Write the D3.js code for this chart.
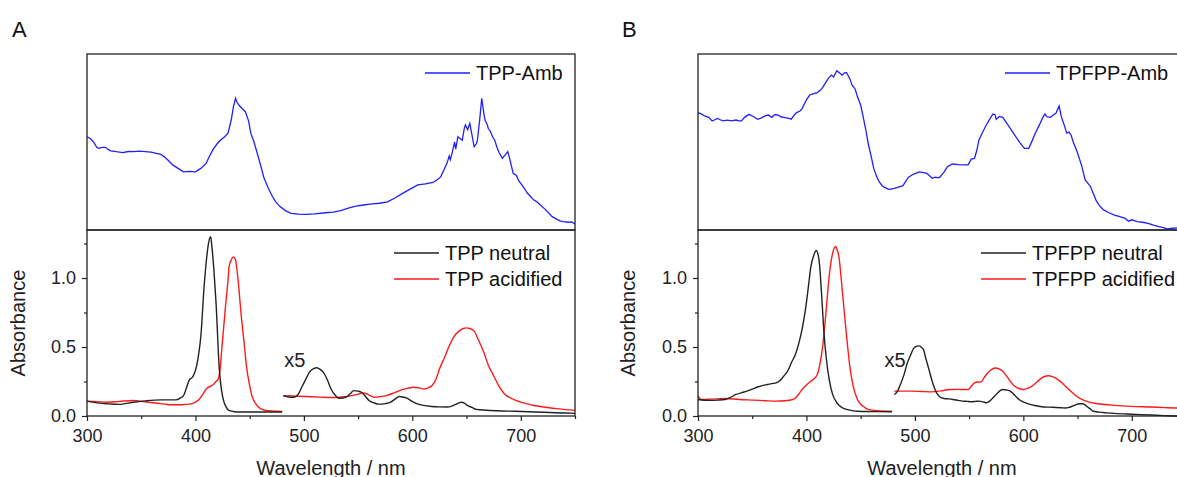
<!DOCTYPE html>
<html>
<head>
<meta charset="utf-8">
<script src="https://cdn.jsdelivr.net/npm/d3@7"></script>
<style>
	body { margin: 0; background: #fff; }
	svg { display: block; font-family: "Liberation Sans", Arial, sans-serif; }
	.tick text { font-size: 18px; fill: #222; }
	.tick line { stroke: #222; stroke-width: 1.2; }
</style>
</head>
<body>
<svg width="1177" height="477"></svg>
<script>
// x range of every panel (nm)
var wlDomain = [300, 750];
var xMajor = [300, 400, 500, 600, 700];
var xMinor = [350, 450, 550, 650, 750];
var yMajor = [0, 0.5, 1.0];
var yMinor = [0.25, 0.75, 1.25];

// top panels: ambient spectra, arbitrary units (0 = panel bottom, 1 = panel top)
var tppAmb = [[300,0.53],[303,0.52],[306,0.50],[309,0.47],[311,0.464],[314,0.47],[317,0.47],[320,0.455],[322,0.45],[327,0.445],[333,0.44],[338,0.446],[343,0.445],[348,0.448],[354,0.445],[359,0.443],[364,0.436],[368,0.43],[371,0.417],[375,0.395],[379,0.37],[384,0.35],[389,0.33],[394,0.333],[400,0.33],[405,0.35],[410,0.38],[413,0.42],[416,0.455],[420,0.49],[423,0.51],[427,0.53],[430,0.55],[433,0.625],[435,0.70],[437,0.748],[438,0.73],[440,0.71],[443,0.69],[446,0.672],[449,0.62],[451,0.55],[454,0.50],[457,0.436],[460,0.37],[463,0.30],[467,0.24],[471,0.19],[474,0.16],[478,0.133],[483,0.11],[488,0.095],[495,0.09],[502,0.089],[510,0.092],[520,0.098],[527,0.102],[534,0.11],[541,0.124],[548,0.136],[555,0.142],[563,0.148],[570,0.152],[577,0.16],[584,0.182],[591,0.208],[598,0.232],[605,0.256],[612,0.262],[619,0.27],[623,0.285],[626,0.30],[629,0.34],[632,0.38],[634,0.42],[635,0.40],[637,0.445],[639,0.50],[640,0.46],[642,0.53],[644,0.52],[646,0.51],[648,0.58],[649,0.597],[651,0.57],[653,0.606],[655,0.54],[657,0.473],[659,0.49],[660,0.51],[662,0.62],[664,0.748],[666,0.66],[667,0.625],[669,0.60],[670,0.578],[672,0.56],[674,0.53],[676,0.51],[678,0.47],[680,0.44],[683,0.407],[686,0.43],[688,0.445],[690,0.40],[693,0.322],[696,0.31],[698,0.28],[701,0.256],[704,0.23],[706,0.21],[709,0.19],[712,0.17],[715,0.16],[718,0.142],[722,0.12],[726,0.095],[729,0.076],[733,0.062],[736,0.052],[739,0.047],[744,0.044],[747,0.046],[750,0.034]];

var tpfppAmb = [[300,0.667],[303,0.66],[306,0.648],[310,0.64],[313,0.62],[315,0.625],[318,0.634],[320,0.628],[323,0.62],[327,0.624],[331,0.62],[335,0.625],[338,0.62],[340,0.62],[343,0.64],[347,0.657],[351,0.645],[355,0.629],[358,0.636],[362,0.648],[365,0.653],[368,0.64],[371,0.656],[374,0.653],[377,0.642],[379,0.64],[383,0.636],[386,0.63],[389,0.655],[391,0.667],[394,0.676],[396,0.69],[400,0.74],[403,0.767],[406,0.774],[410,0.78],[413,0.795],[415,0.81],[418,0.84],[420,0.86],[423,0.88],[425,0.87],[428,0.905],[430,0.895],[433,0.88],[435,0.893],[437,0.894],[440,0.86],[442,0.824],[445,0.80],[447,0.758],[450,0.71],[452,0.653],[455,0.56],[457,0.49],[460,0.41],[462,0.35],[465,0.30],[467,0.275],[470,0.25],[472,0.242],[475,0.234],[477,0.231],[481,0.236],[484,0.242],[487,0.248],[489,0.252],[492,0.28],[494,0.30],[499,0.318],[504,0.33],[508,0.326],[511,0.322],[514,0.305],[516,0.294],[519,0.30],[521,0.296],[523,0.30],[527,0.33],[530,0.36],[533,0.37],[535,0.375],[540,0.372],[545,0.37],[549,0.37],[552,0.403],[555,0.407],[557,0.45],[559,0.51],[562,0.55],[565,0.587],[569,0.63],[572,0.659],[574,0.655],[575,0.629],[578,0.645],[581,0.64],[585,0.605],[589,0.568],[593,0.53],[597,0.495],[601,0.464],[605,0.464],[608,0.505],[611,0.55],[615,0.60],[618,0.64],[620,0.659],[622,0.642],[625,0.64],[628,0.655],[630,0.663],[633,0.705],[635,0.644],[638,0.59],[640,0.55],[642,0.556],[644,0.54],[646,0.50],[649,0.455],[652,0.40],[654,0.36],[657,0.284],[660,0.262],[662,0.246],[665,0.20],[667,0.17],[670,0.14],[674,0.114],[679,0.098],[684,0.085],[689,0.076],[694,0.066],[697,0.05],[700,0.058],[705,0.047],[710,0.044],[715,0.038],[720,0.028],[725,0.019],[729,0.014],[733,0.006],[738,0.01],[742,0.012],[746,0.004],[750,0.002]];

// bottom panels: absorbance (second segment 480-750 nm drawn x5)
var tppNeutralA = [[300,0.108],[311,0.093],[320,0.088],[329,0.084],[343,0.10],[354,0.11],[368,0.117],[382,0.117],[386,0.13],[389,0.148],[392,0.21],[394,0.256],[398,0.29],[401,0.36],[403,0.45],[405,0.58],[408,0.94],[410,1.12],[412,1.25],[414,1.30],[415,1.24],[417,1.06],[419,0.82],[422,0.34],[424,0.19],[426,0.11],[428,0.07],[431,0.04],[436,0.031],[442,0.029],[467,0.029],[480,0.029]];
var tppNeutralB = [[481,0.148],[486,0.138],[491,0.136],[495,0.16],[498,0.208],[502,0.27],[505,0.316],[509,0.343],[512,0.35],[515,0.338],[518,0.316],[522,0.255],[525,0.196],[529,0.15],[532,0.129],[536,0.13],[539,0.136],[543,0.163],[546,0.184],[550,0.18],[553,0.172],[557,0.14],[560,0.112],[565,0.094],[569,0.086],[575,0.09],[580,0.10],[584,0.122],[588,0.141],[591,0.138],[595,0.129],[600,0.105],[604,0.089],[610,0.077],[618,0.069],[625,0.066],[632,0.065],[637,0.074],[640,0.084],[643,0.095],[645,0.10],[648,0.094],[650,0.081],[655,0.062],[659,0.048],[668,0.042],[678,0.038],[695,0.034],[714,0.029],[732,0.024],[750,0.019]];
var tppAcidA = [[300,0.108],[310,0.104],[318,0.10],[330,0.106],[343,0.112],[352,0.104],[361,0.096],[370,0.088],[378,0.081],[388,0.082],[396,0.088],[400,0.10],[403,0.117],[407,0.16],[410,0.196],[414,0.216],[417,0.232],[419,0.25],[421,0.268],[423,0.36],[424,0.46],[426,0.64],[428,0.82],[430,0.98],[431,1.08],[433,1.13],[435,1.153],[437,1.13],[438,1.08],[440,0.93],[442,0.746],[445,0.52],[447,0.364],[450,0.22],[452,0.148],[456,0.085],[460,0.053],[464,0.042],[467,0.038],[475,0.034],[480,0.033]];
var tppAcidB = [[481,0.148],[490,0.145],[502,0.141],[515,0.137],[530,0.134],[538,0.14],[544,0.148],[550,0.158],[555,0.167],[560,0.152],[565,0.136],[570,0.14],[576,0.148],[583,0.167],[590,0.189],[596,0.202],[601,0.208],[606,0.204],[611,0.196],[615,0.205],[618,0.22],[622,0.27],[625,0.34],[630,0.43],[634,0.507],[638,0.57],[643,0.615],[647,0.634],[650,0.639],[653,0.634],[657,0.615],[661,0.55],[666,0.46],[670,0.37],[675,0.292],[680,0.215],[685,0.16],[692,0.125],[700,0.10],[710,0.08],[721,0.065],[735,0.052],[750,0.041]];

var tpfppNeutralA = [[300,0.12],[311,0.113],[318,0.115],[325,0.12],[330,0.135],[335,0.156],[340,0.168],[345,0.18],[350,0.195],[355,0.21],[360,0.222],[364,0.228],[368,0.235],[372,0.24],[376,0.26],[379,0.288],[383,0.33],[386,0.384],[390,0.45],[393,0.528],[396,0.63],[399,0.767],[402,0.95],[404,1.079],[407,1.17],[409,1.199],[411,1.16],[412,1.103],[414,0.88],[416,0.62],[418,0.44],[421,0.264],[424,0.16],[428,0.096],[432,0.065],[437,0.048],[442,0.039],[447,0.034],[460,0.032],[479,0.031]];
var tpfppNeutralB = [[481,0.156],[484,0.18],[486,0.216],[490,0.30],[493,0.384],[496,0.44],[499,0.492],[502,0.506],[504,0.508],[506,0.498],[508,0.48],[510,0.42],[513,0.336],[516,0.25],[520,0.168],[523,0.14],[527,0.127],[531,0.124],[535,0.12],[540,0.113],[544,0.108],[548,0.106],[552,0.103],[556,0.106],[559,0.108],[563,0.102],[566,0.096],[569,0.108],[572,0.132],[576,0.165],[579,0.186],[581,0.192],[585,0.188],[588,0.18],[592,0.15],[596,0.12],[601,0.098],[606,0.084],[612,0.074],[617,0.067],[624,0.064],[630,0.062],[635,0.06],[639,0.058],[642,0.062],[644,0.067],[647,0.077],[649,0.084],[652,0.089],[654,0.089],[657,0.08],[659,0.067],[662,0.05],[664,0.036],[670,0.028],[677,0.023],[684,0.019],[700,0.013],[718,0.007],[730,0.003],[741,0.0],[750,0.0]];
var tpfppAcidA = [[300,0.144],[302,0.125],[303,0.12],[312,0.122],[325,0.127],[338,0.12],[352,0.115],[362,0.111],[372,0.108],[380,0.11],[388,0.12],[392,0.15],[396,0.192],[400,0.225],[404,0.252],[407,0.27],[410,0.30],[412,0.36],[415,0.504],[418,0.75],[420,0.935],[422,1.08],[424,1.175],[427,1.228],[428,1.21],[430,1.151],[432,1.0],[435,0.743],[437,0.58],[440,0.36],[443,0.22],[447,0.12],[452,0.072],[457,0.048],[465,0.038],[479,0.034]];
var tpfppAcidB = [[481,0.18],[490,0.18],[498,0.18],[506,0.178],[515,0.175],[524,0.182],[532,0.192],[540,0.193],[549,0.192],[552,0.215],[555,0.24],[558,0.246],[561,0.247],[564,0.28],[567,0.312],[571,0.338],[574,0.348],[578,0.34],[581,0.324],[585,0.285],[589,0.24],[594,0.205],[600,0.192],[604,0.2],[608,0.216],[613,0.25],[617,0.276],[620,0.288],[623,0.292],[627,0.285],[632,0.264],[637,0.23],[642,0.192],[648,0.15],[654,0.12],[660,0.102],[667,0.091],[675,0.083],[684,0.077],[700,0.07],[718,0.065],[730,0.061],[741,0.058],[750,0.056]];

var svg = d3.select('svg');

function drawPanel(opt) {
	var left = opt.left, width = 488;
	var top = 54, mid = 230, bottom = 416;

	var x = d3.scaleLinear().domain(wlDomain).range([left, left + width]);
	var yTop = d3.scaleLinear().domain([0, 1]).range([mid, top]);
	var y = d3.scaleLinear().domain([0, 1.348]).range([bottom, mid]);

	var g = svg.append('g');

	// panel letter
	g.append('text')
		.attr('x', opt.letterX).attr('y', 37)
		.style('font-size', '22px').style('fill', '#111')
		.text(opt.letter);

	// top panel - ambient spectrum
	var lineTop = d3.line()
		.x(function(d) { return x(d[0]); })
		.y(function(d) { return yTop(d[1]); });
	g.append('path')
		.datum(opt.amb)
		.attr('d', lineTop)
		.attr('fill', 'none')
		.attr('stroke', '#1f1fff')
		.attr('stroke-width', 1.3);

	// bottom panel - absorbance
	var line = d3.line()
		.curve(d3.curveMonotoneX)
		.x(function(d) { return x(d[0]); })
		.y(function(d) { return y(d[1]); });
	[[opt.acidA, '#ff1a1a'], [opt.acidB, '#ff1a1a'], [opt.neutA, '#222'], [opt.neutB, '#222']].forEach(function(s) {
		g.append('path')
			.datum(s[0])
			.attr('d', line)
			.attr('fill', 'none')
			.attr('stroke', s[1])
			.attr('stroke-width', 1.4);
	});

	// frames
	g.append('rect')
		.attr('x', left).attr('y', top)
		.attr('width', width).attr('height', mid - top)
		.attr('fill', 'none').attr('stroke', '#222').attr('stroke-width', 1.3);
	g.append('rect')
		.attr('x', left).attr('y', mid)
		.attr('width', width).attr('height', bottom - mid)
		.attr('fill', 'none').attr('stroke', '#222').attr('stroke-width', 1.3);

	// axes
	g.append('g').attr('transform', 'translate(0,' + bottom + ')')
		.call(d3.axisBottom(x).tickValues(xMajor).tickSize(5).tickPadding(8).tickFormat(d3.format('d')));
	g.append('g').attr('transform', 'translate(0,' + bottom + ')')
		.call(d3.axisBottom(x).tickValues(xMinor).tickSize(3).tickFormat(''));
	g.append('g').attr('transform', 'translate(' + left + ',0)')
		.call(d3.axisLeft(y).tickValues(yMajor).tickSize(5).tickPadding(6).tickFormat(d3.format('.1f')));
	g.append('g').attr('transform', 'translate(' + left + ',0)')
		.call(d3.axisLeft(y).tickValues(yMinor).tickSize(3).tickFormat(''));
	g.selectAll('.domain').remove();

	// axis titles
	g.append('text')
		.attr('x', left + width / 2).attr('y', 475)
		.attr('text-anchor', 'middle')
		.style('font-size', '20px').style('fill', '#222')
		.text('Wavelength / nm');
	g.append('text')
		.attr('transform', 'translate(' + (opt.letterX + 13) + ',' + ((mid + bottom) / 2) + ') rotate(-90)')
		.attr('text-anchor', 'middle')
		.style('font-size', '20px').style('fill', '#222')
		.text('Absorbance');

	// x5 marker
	g.append('text')
		.attr('x', x(opt.x5)).attr('y', 367)
		.style('font-size', '20px').style('fill', '#222')
		.text('x5');

	// legends
	function legend(lx, ly, color, label) {
		g.append('line')
			.attr('x1', lx).attr('x2', lx + 45)
			.attr('y1', ly).attr('y2', ly)
			.attr('stroke', color).attr('stroke-width', 1.4);
		g.append('text')
			.attr('x', lx + 51).attr('y', ly).attr('dy', '0.35em')
			.style('font-size', '20px').style('fill', '#111')
			.text(label);
	}
	legend(opt.ambLegX, 73, '#1f1fff', opt.name + '-Amb');
	legend(opt.legX, 253, '#222', opt.name + ' neutral');
	legend(opt.legX, 279, '#ff1a1a', opt.name + ' acidified');
}

drawPanel({
	left: 87, letter: 'A', letterX: 12, name: 'TPP',
	amb: tppAmb, neutA: tppNeutralA, neutB: tppNeutralB, acidA: tppAcidA, acidB: tppAcidB,
	x5: 482, ambLegX: 425, legX: 394
});
drawPanel({
	left: 698, letter: 'B', letterX: 622, name: 'TPFPP',
	amb: tpfppAmb, neutA: tpfppNeutralA, neutB: tpfppNeutralB, acidA: tpfppAcidA, acidB: tpfppAcidB,
	x5: 172 + 300, ambLegX: 1005, legX: 981
});
</script>
</body>
</html>
